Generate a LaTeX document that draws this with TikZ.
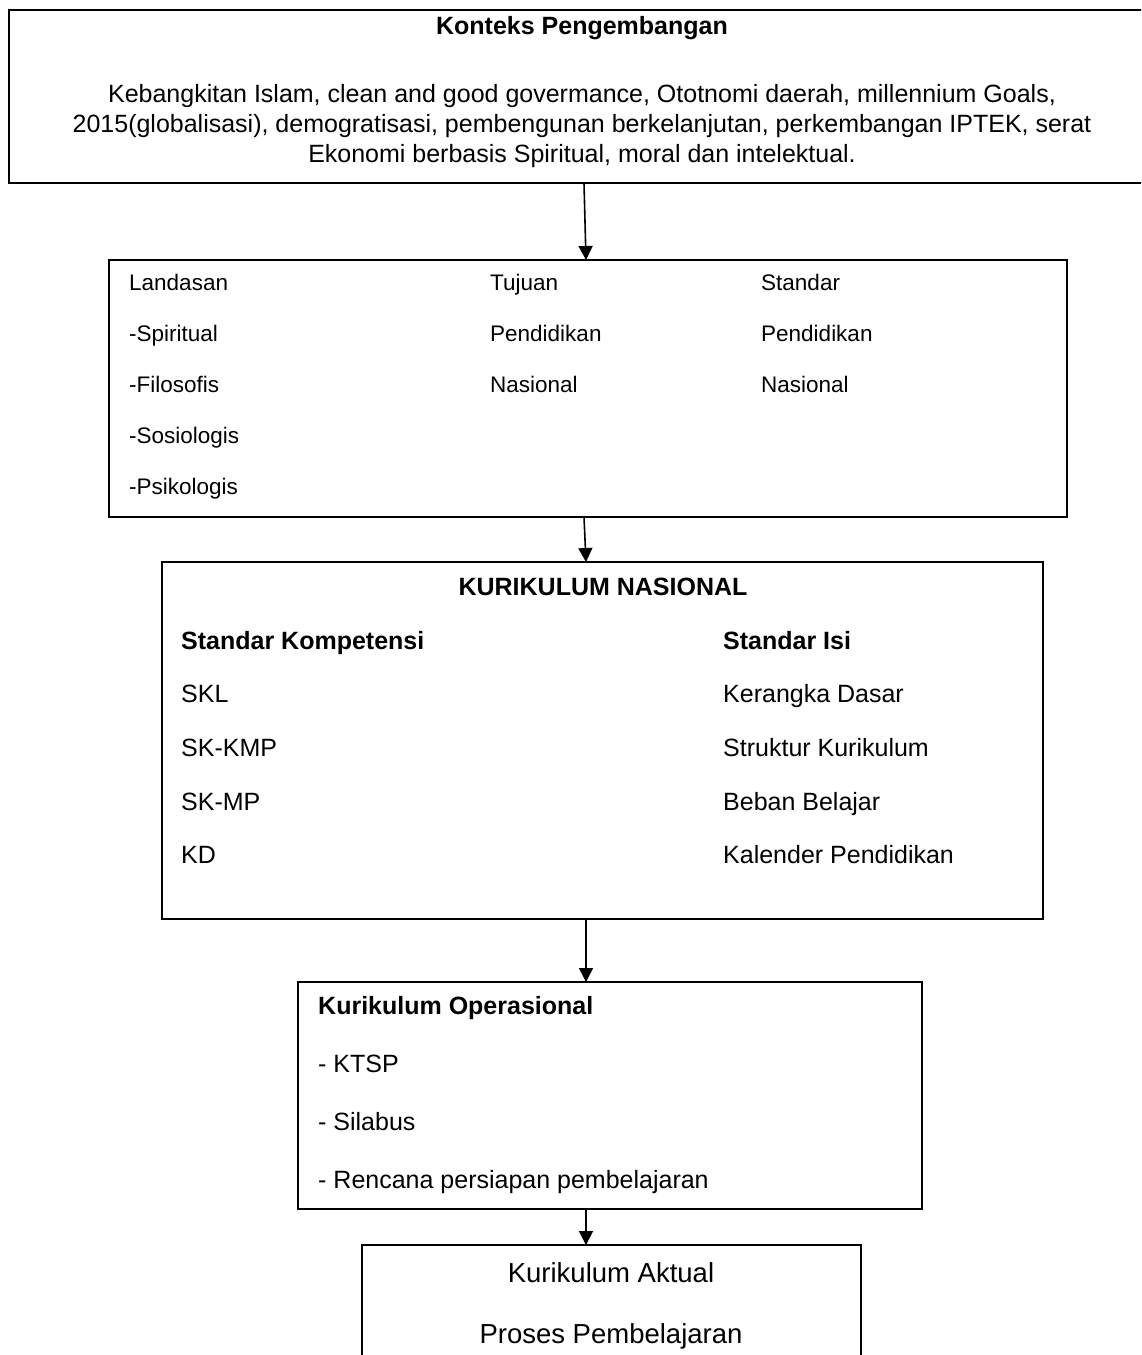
\documentclass[tikz,border=0pt]{standalone}
\usepackage{fontspec}
\setmainfont{Liberation Sans}
\usetikzlibrary{arrows.meta}
\begin{document}
\begin{tikzpicture}[x=1pt,y=-1pt,
  box/.style={draw=black,line width=1.8pt,anchor=north west,inner sep=0pt,outer sep=0pt},
  arr/.style={line width=1.6pt,-{Triangle[length=14pt,width=14pt]}},
  t/.style={inner sep=0pt,anchor=base west},
  tc/.style={inner sep=0pt,anchor=base},
  fa/.style={font=\fontsize{25}{30}\selectfont},
  fb/.style={font=\fontsize{22.5}{27}\selectfont},
  fe/.style={font=\fontsize{27.5}{33}\selectfont}]
\clip (0,0) rectangle (1141,1355);
\fill[white] (0,0) rectangle (1141,1355);
% boxes
\node[box,minimum width=1146pt,minimum height=173pt] (top) at (9,10) {};
\node[box,minimum width=958pt,minimum height=257pt] (b2) at (109,260) {};
\node[box,minimum width=881pt,minimum height=357pt] (b3) at (162,562) {};
\node[box,minimum width=624pt,minimum height=227pt] (b4) at (298,982) {};
\node[box,minimum width=499pt,minimum height=140pt] (b5) at (362,1245) {};
% top text
\node[tc,fa,font=\fontsize{25}{30}\selectfont\bfseries] (t0) at (582,34) {Konteks Pengembangan};
\node[tc,fa] (t1) at (582,102) {Kebangkitan Islam, clean and good govermance, Ototnomi daerah, millennium Goals,};
\node[tc,fa] (t2) at (582,132) {2015(globalisasi), demogratisasi, pembengunan berkelanjutan, perkembangan IPTEK, serat};
\node[tc,fa] (t3) at (582,162) {Ekonomi berbasis Spiritual, moral dan intelektual.};
% box 2
\node[t,fb] (l1) at (129,290) {Landasan};
\node[t,fb] (l2) at (129,341) {-Spiritual};
\node[t,fb] (l3) at (129,392) {-Filosofis};
\node[t,fb] (l4) at (129,443) {-Sosiologis};
\node[t,fb] (l5) at (129,494) {-Psikologis};
\node[t,fb] (m1) at (490,290) {Tujuan};
\node[t,fb] (m2) at (490,341) {Pendidikan};
\node[t,fb] (m3) at (490,392) {Nasional};
\node[t,fb] (r1) at (761,290) {Standar};
\node[t,fb] (r2) at (761,341) {Pendidikan};
\node[t,fb] (r3) at (761,392) {Nasional};
% box 3
\node[tc,font=\fontsize{25}{30}\selectfont\bfseries] (k0) at (603,595) {KURIKULUM NASIONAL};
\node[t,font=\fontsize{25}{30}\selectfont\bfseries] (k1) at (181,649) {Standar Kompetensi};
\node[t,fa] (k2) at (181,702) {SKL};
\node[t,fa] (k3) at (181,756) {SK-KMP};
\node[t,fa] (k4) at (181,810) {SK-MP};
\node[t,fa] (k5) at (181,863) {KD};
\node[t,font=\fontsize{25}{30}\selectfont\bfseries] (s1) at (723,649) {Standar Isi};
\node[t,fa] (s2) at (723,702) {Kerangka Dasar};
\node[t,fa] (s3) at (723,756) {Struktur Kurikulum};
\node[t,fa] (s4) at (723,810) {Beban Belajar};
\node[t,fa] (s5) at (723,863) {Kalender Pendidikan};
% box 4
\node[t,font=\fontsize{25}{30}\selectfont\bfseries] (o1) at (318,1014) {Kurikulum Operasional};
\node[t,fa] (o2) at (318,1072) {- KTSP};
\node[t,fa] (o3) at (318,1130) {- Silabus};
\node[t,fa] (o4) at (318,1188) {- Rencana persiapan pembelajaran};
% box 5
\node[tc,fe] (p1) at (611,1282) {Kurikulum Aktual};
\node[tc,fe] (p2) at (611,1343) {Proses Pembelajaran};
% arrows
\draw[arr] (top.south -| 584,0) -- (b2.north -| 586,0);
\draw[arr] (b2.south -| 584,0) -- (b3.north -| 586,0);
\draw[arr] (b3.south -| 586,0) -- (b4.north -| 586,0);
\draw[arr] (b4.south -| 586,0) -- (b5.north -| 586,0);
\end{tikzpicture}
\end{document}
